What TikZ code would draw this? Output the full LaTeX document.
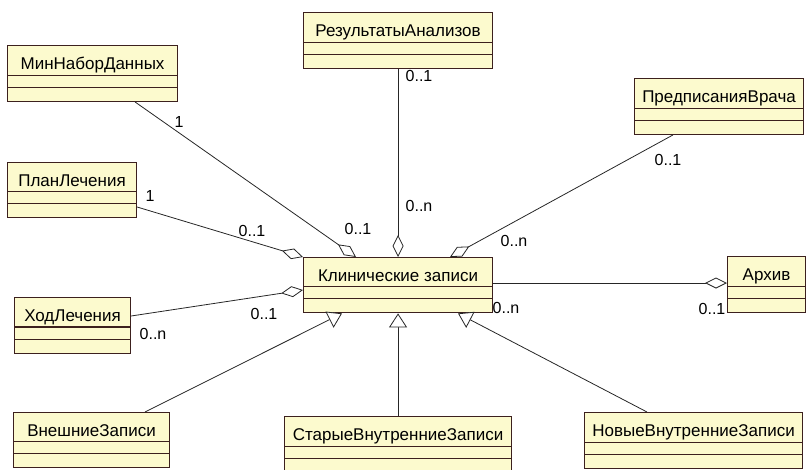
\documentclass[tikz,border=0pt]{standalone}
\usepackage{fontspec}
\setmainfont{Liberation Sans}
\usetikzlibrary{shapes.multipart,arrows.meta,calc}
\definecolor{clsfill}{RGB}{252,250,206}
\definecolor{clsline}{RGB}{60,32,30}

\tikzset{
  umlclass/.style={rectangle split, rectangle split parts=3,
    draw=clsline, fill=clsfill, line width=1.1pt,
    inner xsep=2pt, inner ysep=2pt, anchor=north west,
    font=\fontsize{17}{19}\selectfont},
  mult/.style={font=\fontsize{16}{18}\selectfont, inner sep=0pt},
  assoc/.style={draw=black!85, line width=0.8pt},
  aggr/.style={assoc, {Diamond[open,fill=white,length=22pt,width=11pt]}-},
  gener/.style={assoc, -{Triangle[open,fill=white,length=14pt,width=18pt]}},
}
% name row plus two empty compartments
\newcommand{\cname}[1]{\rule[-3pt]{0pt}{24pt}#1\nodepart{two}\rule{0pt}{7pt}\nodepart{three}\rule{0pt}{9pt}}

\begin{document}
\begin{tikzpicture}[x=1pt,y=-1pt]
            \useasboundingbox (0,0) rectangle (809,469);

            % classes
            \node[umlclass, minimum width=170pt] (minset) at (7,45) {\cname{МинНаборДанных}};
            \node[umlclass, minimum width=189pt] (results) at (303,12) {\cname{РезультатыАнализов}};
            \node[umlclass, minimum width=169pt] (orders) at (634,78) {\cname{ПредписанияВрача}};
            \node[umlclass, minimum width=129pt] (plan) at (7,162) {\cname{ПланЛечения}};
            \node[umlclass, minimum width=189pt] (clin) at (303,257) {\cname{Клинические записи}};
            \node[umlclass, minimum width=78pt] (archive) at (727,256) {\cname{Архив}};
            \node[umlclass, minimum width=116pt] (course) at (14,297) {\cname{ХодЛечения}};
            \node[umlclass, minimum width=156pt] (ext) at (13,412) {\cname{ВнешниеЗаписи}};
            \node[umlclass, minimum width=227pt] (oldint) at (284,416) {\cname{СтарыеВнутренниеЗаписи}};
            \node[umlclass, minimum width=218pt] (newint) at (584,412) {\cname{НовыеВнутренниеЗаписи}};

            % aggregations
            \draw[aggr] ($(clin.north west)+(53,0)$) -- ($(minset.south west)+(128,0)$);
            \draw[aggr] (clin.north west) -- ($(plan.north east)+(0,45)$);
            \draw[aggr] ($(clin.north west)+(0,33)$) -- ($(course.north east)+(0,19)$);
            \draw[aggr] (clin.north) -- (results.south);
            \draw[aggr] ($(clin.north west)+(147,0)$) -- ($(orders.south west)+(39,0)$);
            \draw[aggr] ($(archive.north west)+(0,27)$) -- ($(clin.north east)+(0,26)$);

            % generalizations
            \draw[gener] ($(ext.north west)+(132,0)$) -- ($(clin.south west)+(39,0)$);
            \draw[gener] (oldint.north) -- (clin.south);
            \draw[gener] ($(newint.north west)+(63,0)$) -- ($(clin.south west)+(155,0)$);

            % multiplicities
            \node[mult] (m1) at (179,122) {1};
            \node[mult] (m2) at (358,229) {0..1};
            \node[mult] (m3) at (150,196) {1};
            \node[mult] (m4) at (252,231) {0..1};
            \node[mult] (m5) at (153,334) {0..n};
            \node[mult] (m6) at (264,314) {0..1};
            \node[mult] (m7) at (419,76) {0..1};
            \node[mult] (m8) at (419,206) {0..n};
            \node[mult] (m9) at (668,160) {0..1};
            \node[mult] (m10) at (514,241) {0..n};
            \node[mult] (m11) at (506,308) {0..n};
            \node[mult] (m12) at (712,309) {0..1};
\end{tikzpicture}
\end{document}
